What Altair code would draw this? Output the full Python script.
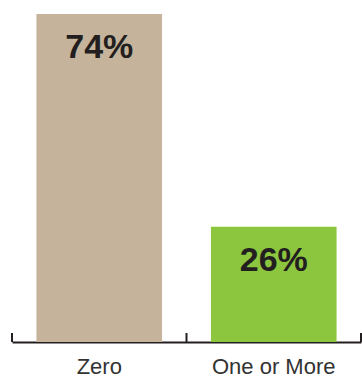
import altair as alt
import pandas as pd

categories = ["Zero", "One or More"]
values = [74, 26]
labels = ["74%", "26%"]
colors = ["#C5B49B", "#8CC63F"]

df = pd.DataFrame({"cat": categories, "val": values, "label": labels})
ticks_df = pd.DataFrame({"cat": categories})
last_df = pd.DataFrame({"cat": categories[-1:]})

W, H = 349, 328

xscale = alt.Scale(domain=categories, paddingInner=0, paddingOuter=0)
yscale = alt.Scale(domain=[0, max(values)], nice=False, zero=True)

bars = alt.Chart(df).mark_bar(width=alt.RelativeBandSize(0.72)).encode(
    x=alt.X("cat:N", scale=xscale, sort=categories,
            axis=alt.Axis(title=None, ticks=False, domain=True, domainColor="#231F20",
                          domainWidth=2, labelAngle=0, labelFont="Liberation Sans",
                          labelFontSize=22, labelColor="#333333", labelBaseline="alphabetic",
                          labelPadding=31, grid=False)),
    y=alt.Y("val:Q", scale=yscale, axis=None),
    color=alt.Color("cat:N", scale=alt.Scale(domain=categories, range=colors), legend=None),
)

text = alt.Chart(df).mark_text(font="Liberation Sans", fontSize=34, fontWeight="bold",
                               color="#231F20", baseline="alphabetic", dy=44).encode(
    x=alt.X("cat:N", scale=xscale, sort=categories),
    y=alt.Y("val:Q", scale=yscale),
    text="label:N",
)

tick_rules = alt.Chart(ticks_df).mark_rule(color="#231F20", strokeWidth=2).encode(
    x=alt.X("cat:N", scale=xscale, sort=categories, bandPosition=0),
    y=alt.value(H - 9),
    y2=alt.value(H),
)
last_rule = alt.Chart(last_df).mark_rule(color="#231F20", strokeWidth=2).encode(
    x=alt.X("cat:N", scale=xscale, sort=categories, bandPosition=1),
    y=alt.value(H - 9),
    y2=alt.value(H),
)

chart = alt.layer(bars, tick_rules, last_rule, text).properties(
    width=W, height=H,
    background="white",
    autosize=alt.AutoSizeParams(type="none"),
    padding={"left": 12, "top": 14, "right": 1, "bottom": 35},
).configure_view(stroke=None, strokeWidth=0)

chart.save("out.html", embed_options={"renderer": "svg", "actions": False})
